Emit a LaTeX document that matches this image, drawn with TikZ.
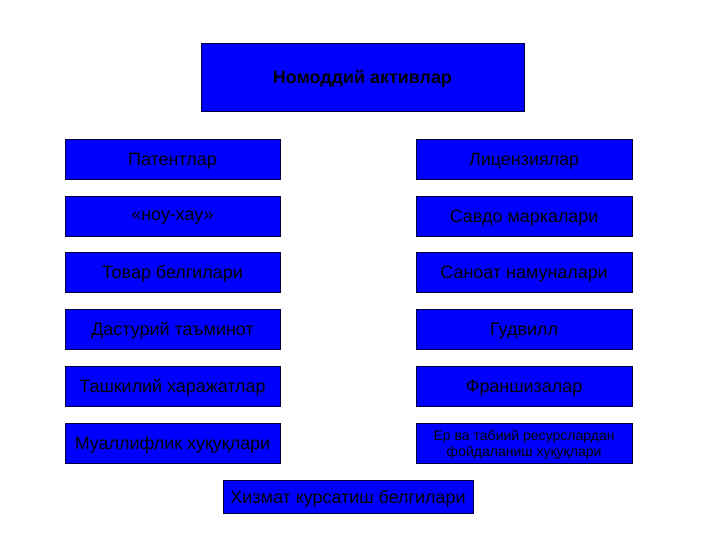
\documentclass[tikz,border=0pt]{standalone}
\usepackage{fontspec}
\setmainfont{Liberation Sans}
\definecolor{BoxBlue}{RGB}{0,0,255}
\definecolor{BoxEdge}{RGB}{0,0,60}
\usetikzlibrary{positioning}

\begin{document}
\begin{tikzpicture}[
    top/.style={draw=BoxEdge,fill=BoxBlue,text=black,inner sep=0pt,text depth=0pt,
                font=\fontsize{17}{20}\selectfont\bfseries,minimum width=10.77cm,minimum height=2.27cm},
    item/.style={draw=BoxEdge,fill=BoxBlue,text=black,inner sep=0pt,text depth=0pt,
                 font=\fontsize{17}{20}\selectfont,minimum width=7.18cm,minimum height=1.33cm},
    small/.style={item,font=\fontsize{13.3}{15.5}\selectfont,align=center},
    foot/.style={item,minimum width=8.33cm,minimum height=1.1cm}]
    \useasboundingbox (0,0) rectangle (24,-18);
    \node[top] (title) at (12.08,-2.57) {Номоддий активлар};

    \node[item] (pat)  at (5.75,-5.3)   {Патентлар};
    \node[item] (know) at (5.75,-7.2)   {«ноу-хау»};
    \node[item] (tov)  at (5.75,-9.08)  {Товар белгилари};
    \node[item] (soft) at (5.75,-10.97) {Дастурий таъминот};
    \node[item] (org)  at (5.75,-12.87) {Ташкилий харажатлар};
    \node[item] (copy) at (5.75,-14.77) {Муаллифлик хуқуқлари};

    \node[item] (lic)  at (17.47,-5.3)   {Лицензиялар};
    \node[item] (mark) at (17.47,-7.2)   {Савдо маркалари};
    \node[item] (ind)  at (17.47,-9.08)  {Саноат намуналари};
    \node[item] (good) at (17.47,-10.97) {Гудвилл};
    \node[item] (fran) at (17.47,-12.87) {Франшизалар};
    \node[small] (land) at (17.47,-14.77) {Ер ва табиий ресурслардан\\фойдаланиш хуқуқлари};

    \node[foot] (serv) at (11.6,-16.55) {Хизмат курсатиш белгилари};
\end{tikzpicture}
\end{document}
